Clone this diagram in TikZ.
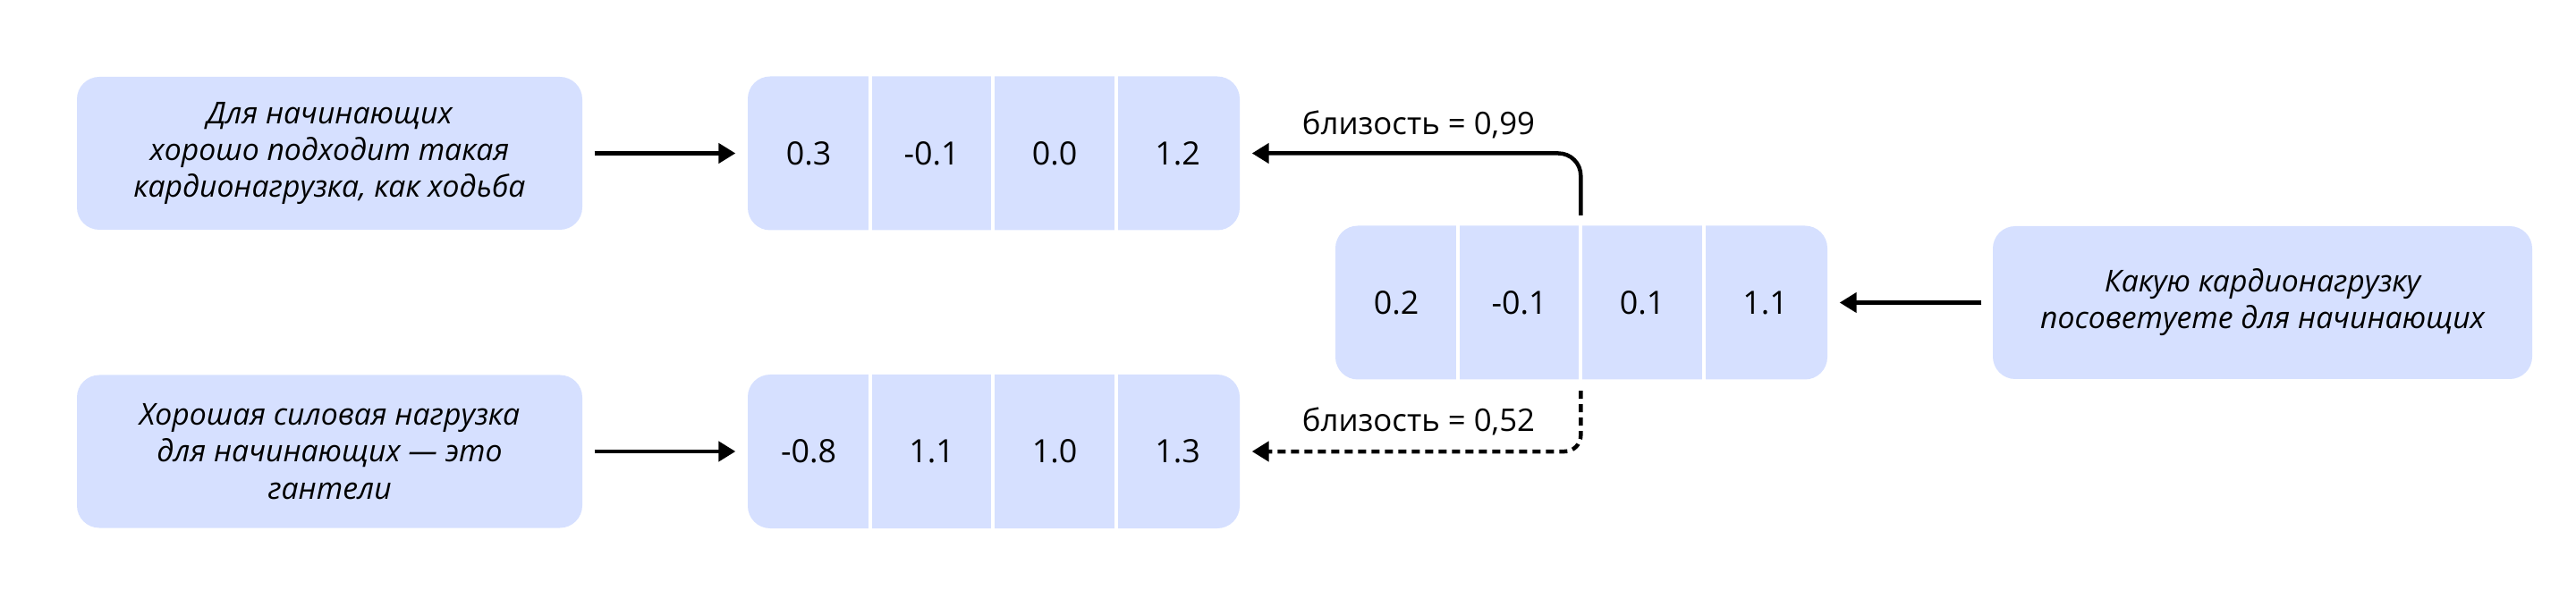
\documentclass[tikz,border=0pt]{standalone}
\usepackage{fontspec}
\setmainfont{Open Sans}
\usetikzlibrary{arrows.meta}
\definecolor{boxblue}{HTML}{D6E0FF}
\tikzset{
  textbox/.style={fill=boxblue, rounded corners=0.25cm, minimum width=5.65cm, minimum height=1.71cm, align=center, inner sep=0pt, font=\itshape\fontsize{9.6}{11.7}\selectfont},
  vecbox/.style={fill=boxblue, rounded corners=0.25cm, minimum width=5.5cm, minimum height=1.72cm, inner sep=0pt},
  num/.style={font=\fontsize{10.2}{12}\selectfont},
  sep/.style={white, line width=0.04cm},
  conn/.style={line width=0.045cm, -{Triangle[length=0.19cm,width=0.22cm]}},
  lbl/.style={font=\fontsize{9.9}{12}\selectfont},
}
\begin{document}
\begin{tikzpicture}
\useasboundingbox (0,0) rectangle (28.8,6.78);
%text boxes
\node[textbox] (doc1) at (3.685,5.065) {Для начинающих\\хорошо подходит такая\\кардионагрузка, как ходьба};
\node[textbox] (doc2) at (3.685,1.73) {Хорошая силовая нагрузка\\для начинающих — это\\гантели};
\node[textbox, minimum width=6.03cm] (query) at (25.295,3.395) {Какую кардионагрузку\\посоветуете для начинающих};

%vectors
\node[vecbox] (vtop) at (11.11,5.065) {};
\node[vecbox] (vbot) at (11.11,1.73) {};
\node[vecbox] (vmid) at (17.68,3.395) {};
\foreach \i in {1,2,3} {
  \draw[sep] ([xshift=1.375cm*\i]vtop.north west) -- ([xshift=1.375cm*\i]vtop.south west);
  \draw[sep] ([xshift=1.375cm*\i]vbot.north west) -- ([xshift=1.375cm*\i]vbot.south west);
  \draw[sep] ([xshift=1.375cm*\i]vmid.north west) -- ([xshift=1.375cm*\i]vmid.south west);
}
\foreach \v [count=\i] in {0.3,-0.1,0.0,1.2}
  \node[num] (top\i) at ([xshift={(\i-0.5)*1.375cm}]vtop.west) {\v};
\foreach \v [count=\i] in {-0.8,1.1,1.0,1.3}
  \node[num] (bot\i) at ([xshift={(\i-0.5)*1.375cm}]vbot.west) {\v};
\foreach \v [count=\i] in {0.2,-0.1,0.1,1.1}
  \node[num] (mid\i) at ([xshift={(\i-0.5)*1.375cm}]vmid.west) {\v};

%arrows
\draw[conn, shorten <=0.13cm, shorten >=0.13cm] (doc1) -- (vtop);
\draw[conn, shorten <=0.13cm, shorten >=0.13cm] (doc2) -- (vbot);
\draw[conn, shorten <=0.12cm, shorten >=0.13cm] (query) -- (vmid);
\coordinate (hi) at ([xshift=2.75cm]vmid.north west);
\coordinate (lo) at ([xshift=2.75cm]vmid.south west);
\draw[conn, rounded corners=0.25cm, shorten <=0.11cm, shorten >=0.13cm] (hi) |- (vtop.east);
\draw[conn, dash pattern=on 0.09cm off 0.06cm, rounded corners=0.18cm, shorten <=0.12cm, shorten >=0.13cm] (lo) |- (vbot.east);

%similarity
\node[lbl] (sim1) at (15.86,5.39) {близость = 0,99};
\node[lbl] (sim2) at (15.86,2.07) {близость = 0,52};
\end{tikzpicture}
\end{document}
